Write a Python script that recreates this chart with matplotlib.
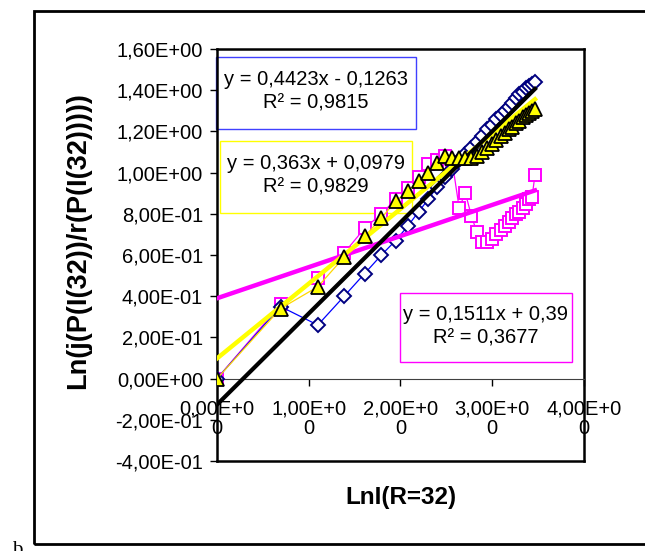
import numpy as np
import matplotlib.pyplot as plt
from matplotlib.patches import Rectangle

plt.rcParams["font.family"] = ["Liberation Sans", "DejaVu Sans"]

# ln(I) for I = 1..32
lnI = [0.000, 0.693, 1.099, 1.386, 1.609, 1.792, 1.946, 2.079, 2.197, 2.303,
       2.398, 2.485, 2.565, 2.639, 2.708, 2.773, 2.833, 2.890, 2.944, 2.996,
       3.045, 3.091, 3.135, 3.178, 3.219, 3.258, 3.296, 3.332, 3.367, 3.401,
       3.434, 3.466]

blue_y = [0.00, 0.35, 0.26, 0.40, 0.51, 0.60, 0.67, 0.74, 0.81, 0.87,
          0.93, 0.98, 1.02, 1.06, 1.09, 1.12, 1.15, 1.18, 1.21, 1.23,
          1.26, 1.28, 1.30, 1.32, 1.34, 1.36, 1.38, 1.39, 1.41, 1.42,
          1.43, 1.44]

magenta_y = [0.00, 0.36, 0.49, 0.61, 0.73, 0.80, 0.87, 0.925, 0.98, 1.04,
             1.06, 1.08, 1.05, 0.83, 0.90, 0.79, 0.71, 0.665, 0.665, 0.68,
             0.70, 0.72, 0.74, 0.76, 0.78, 0.80, 0.81, 0.83, 0.85, 0.87,
             0.88, 0.99]

yellow_y = [0.00, 0.34, 0.446, 0.59, 0.69, 0.78, 0.86, 0.91, 0.96, 1.00,
            1.045, 1.08, 1.07, 1.07, 1.07, 1.07, 1.08, 1.10, 1.12, 1.14,
            1.16, 1.18, 1.19, 1.21, 1.22, 1.24, 1.25, 1.27, 1.28, 1.29,
            1.30, 1.31]

# trendline coefficients (slope, intercept) as printed on the chart
fit_blue = (0.4423, -0.1263)
fit_yellow = (0.363, 0.0979)
fit_magenta = (0.1511, 0.39)

eq_blue = "y = 0,4423x - 0,1263\nR² = 0,9815"
eq_yellow = "y = 0,363x + 0,0979\nR² = 0,9829"
eq_magenta = "y = 0,1511x + 0,39\nR² = 0,3677"

yticks = [-0.4, -0.2, 0.0, 0.2, 0.4, 0.6, 0.8, 1.0, 1.2, 1.4, 1.6]
ytick_labels = ["-4,00E-01", "-2,00E-01", "0,00E+00", "2,00E-01", "4,00E-01",
                "6,00E-01", "8,00E-01", "1,00E+00", "1,20E+00", "1,40E+00",
                "1,60E+00"]
xticks = [0, 1, 2, 3, 4]
xtick_labels = ["0,00E+0\n0", "1,00E+0\n0", "2,00E+0\n0", "3,00E+0\n0", "4,00E+0\n0"]

fig = plt.figure(figsize=(6.45, 5.51), dpi=100)
ax = fig.add_axes([0.3364, 0.1633, 0.569, 0.7477])

# x axis crosses at y = 0 (set before the tick labels, it resets them)
ax.spines["bottom"].set_position(("data", 0))
ax.spines["bottom"].set_linewidth(0.8)
ax.spines["bottom"].set_color("#404040")
for s in ["left", "right", "top"]:
    ax.spines[s].set_linewidth(1.8)

# equation boxes (no fill, drawn under the data)
boxes = [
    ((-0.011, 1.212), 2.18, 0.351, "#4040FF", 1.08, 1.394, eq_blue),
    ((0.033, 0.804), 2.092, 0.351, "#FFFF00", 1.08, 0.988, eq_yellow),
    ((1.995, 0.081), 1.874, 0.3345, "#FF00FF", 2.93, 0.255, eq_magenta),
]
for (x0, y0), w, h, ec, tx, ty, txt in boxes:
    ax.add_patch(Rectangle((x0, y0), w, h, fill=False, ec=ec, lw=1.0,
                           zorder=1, clip_on=False))
    ax.text(tx, ty, txt, ha="center", va="center", fontsize=14.5,
            linespacing=1.3, zorder=1)

# series
ax.plot(lnI, magenta_y, color="#FF00FF", lw=0.9, marker="s", ms=9.2,
        mfc="white", mec="#FF00FF", mew=1.4, zorder=2)
ax.plot(lnI, blue_y, color="#0000FF", lw=0.9, marker="D", ms=7.5,
        mfc="white", mec="#000080", mew=1.4, zorder=3)
ax.plot(lnI, yellow_y, color="#FFD700", lw=0.9, zorder=4)

# trendlines
xl = np.array([lnI[0], lnI[-1]])
ax.plot(xl, fit_magenta[0] * xl + fit_magenta[1], color="#FF00FF", lw=3.2, zorder=5)
ax.plot(xl, fit_yellow[0] * xl + fit_yellow[1], color="#FFFF00", lw=3.2, zorder=5)
ax.plot(xl, fit_blue[0] * xl + fit_blue[1], color="black", lw=3.0, zorder=5)

ax.plot(lnI, yellow_y, ls="none", marker="^", ms=10.5, mfc="#FFFF00",
        mec="black", mew=1.3, zorder=6)

ax.set_xlim(0, 4)
ax.set_ylim(-0.4, 1.6)
ax.set_yticks(yticks)
ax.set_yticklabels(ytick_labels, fontsize=14.5)
ax.set_xticks(xticks)
ax.set_xticklabels(xtick_labels, fontsize=14.5)
for lab in ax.get_xticklabels():
    lab.set_linespacing(1.05)

ax.plot([0, 1], [0, 0], transform=ax.transAxes, color="black", lw=1.8,
        clip_on=False, zorder=7)
ax.tick_params(axis="y", direction="out", length=5, width=1.0, pad=5)
ax.tick_params(axis="x", direction="out", length=5, width=1.0, pad=10)

ax.set_ylabel("Ln(j(P(I(32))/r(P(I(32)))))", fontsize=19.5, fontweight="bold")
ax.yaxis.set_label_coords(-0.342, 0.535)
ax.set_xlabel("LnI(R=32)", fontsize=17.5, fontweight="bold")
ax.xaxis.set_label_coords(0.5, -0.06)

# outer frame and panel letter
fig.add_artist(Rectangle((34 / 645, 7 / 551), 1.0, 533 / 551,
                         transform=fig.transFigure, fill=False,
                         ec="black", lw=2.0))
fig.text(12 / 645, -4 / 551, "b", family=["Liberation Serif", "DejaVu Serif"],
         fontsize=15, va="baseline", ha="left")

fig.savefig("out.png", dpi=100)
